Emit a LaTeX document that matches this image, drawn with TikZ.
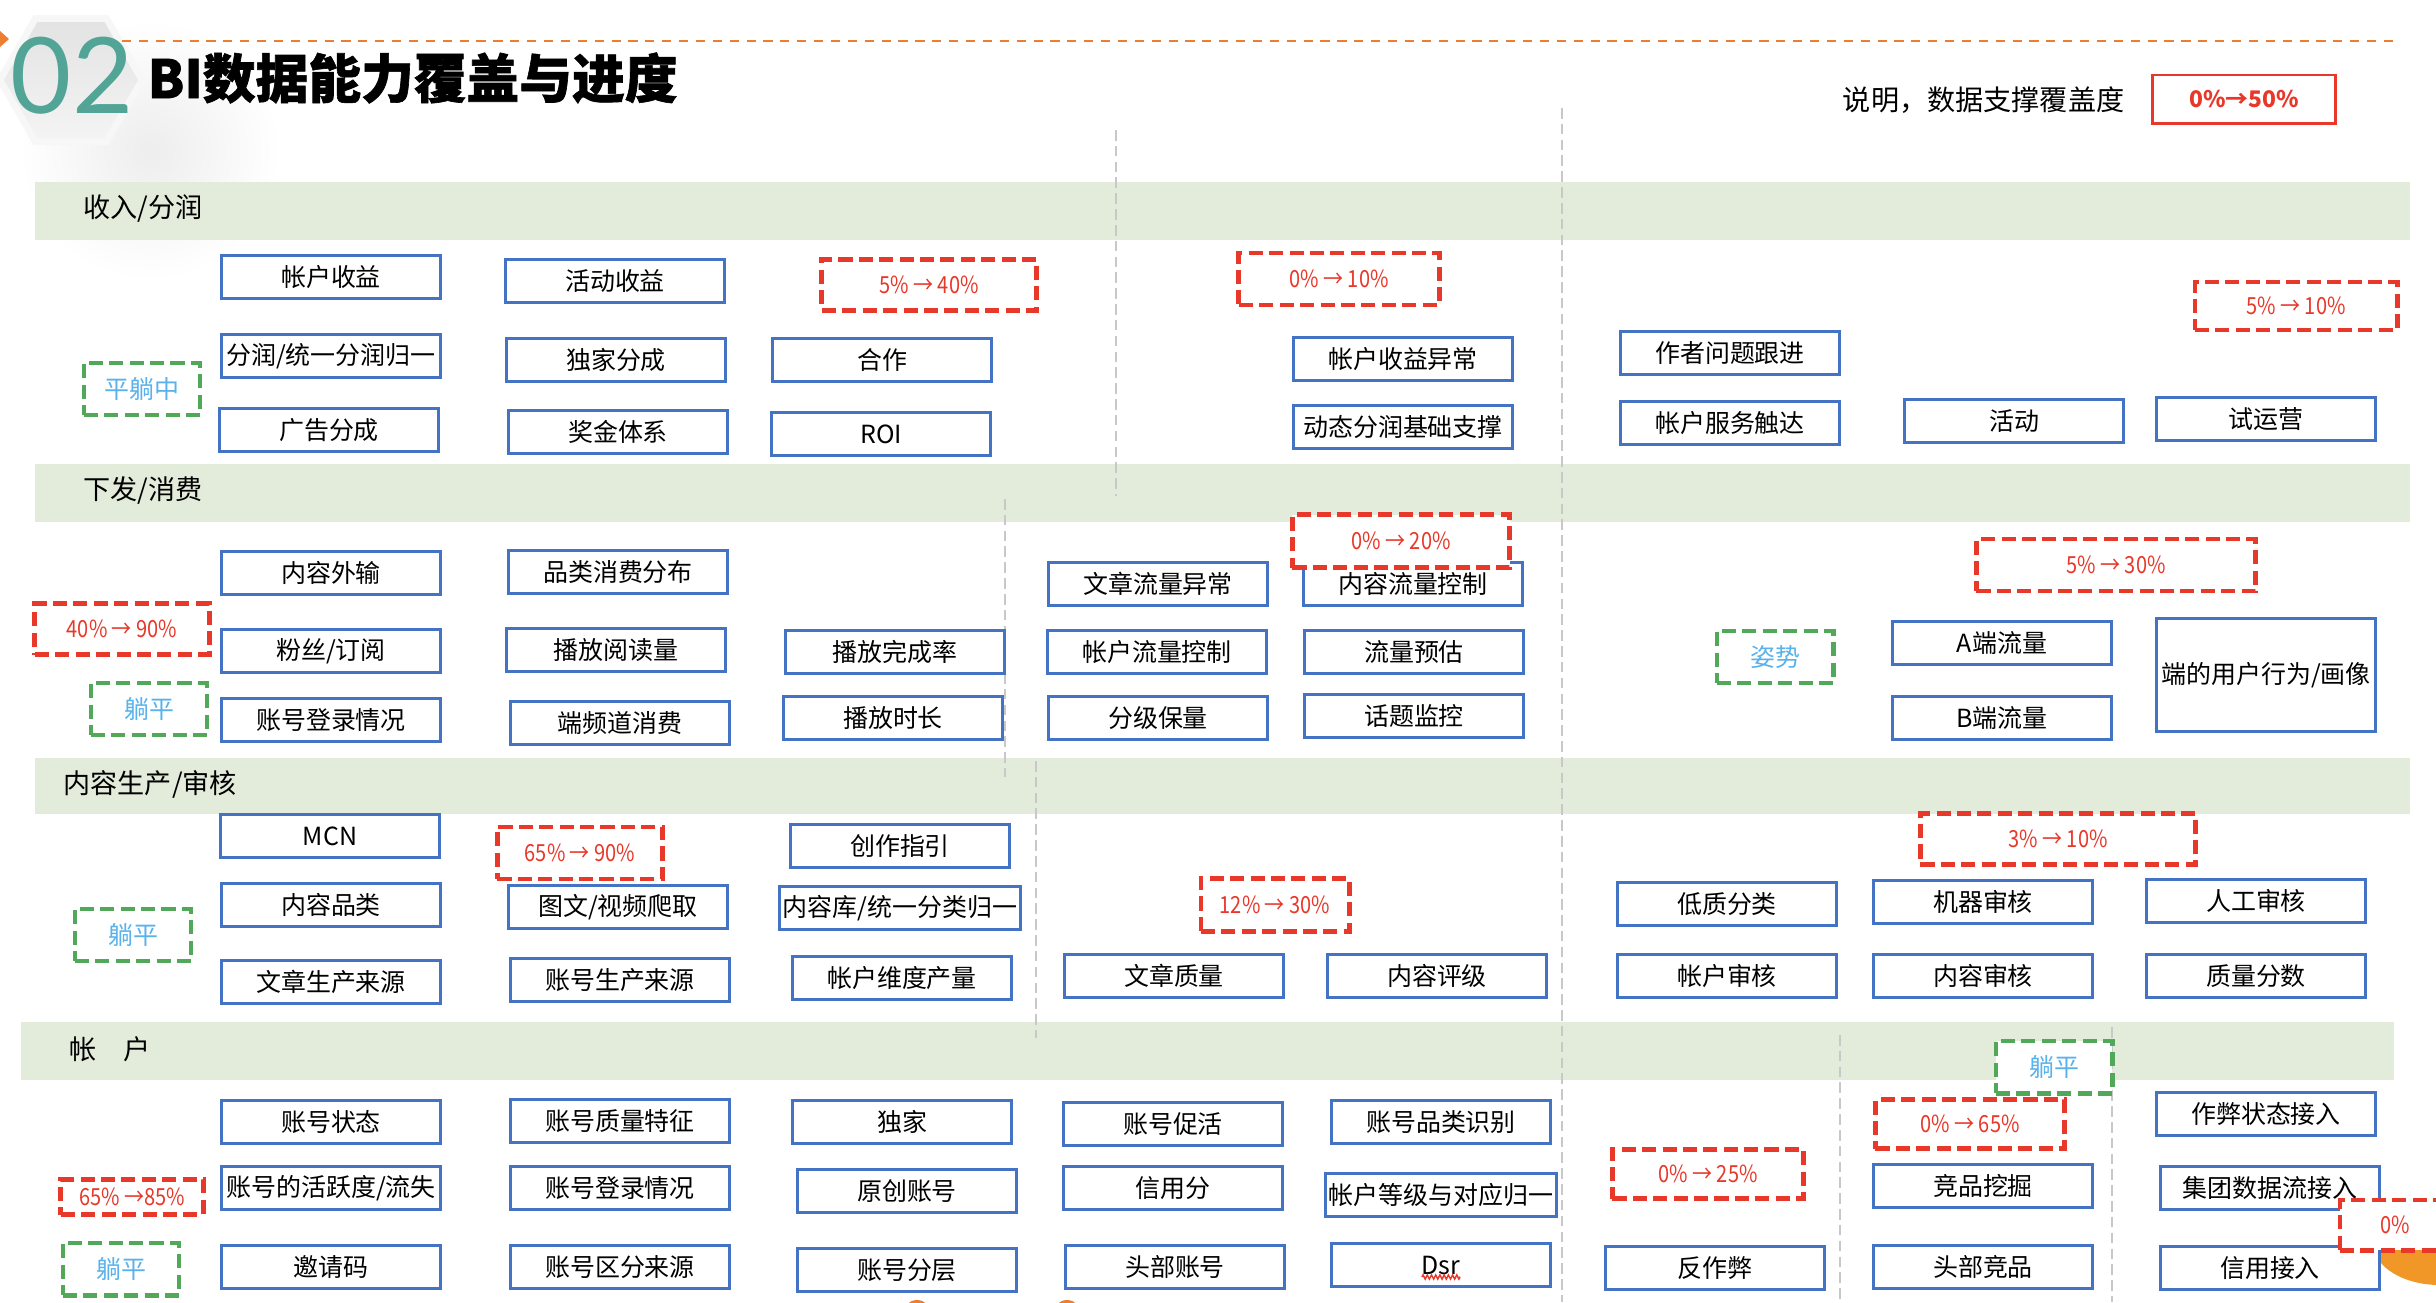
\documentclass[tikz,border=0pt]{standalone}
\usepackage{fontspec}
\setmainfont{Noto Sans CJK SC}
\newfontfamily\numfont{Lato}
\newfontfamily\titlefont{Noto Sans CJK SC}[BoldFeatures={FakeBold=1.2}]
\newfontfamily\goalfont{Noto Sans CJK SC}[FakeStretch=0.85]
\usetikzlibrary{shapes,decorations.pathmorphing}
\definecolor{boxblue}{RGB}{68,114,196}
\definecolor{goalred}{RGB}{232,56,42}
\definecolor{flatgreen}{RGB}{80,168,88}
\definecolor{flatblue}{RGB}{90,178,236}
\definecolor{bandgreen}{RGB}{227,236,218}
\definecolor{headorange}{RGB}{237,125,49}
\definecolor{numteal}{RGB}{82,164,150}
\definecolor{divgray}{RGB}{200,200,200}

\begin{document}
\begin{tikzpicture}[x=0.01cm,y=-0.01cm,
  itembox/.style={draw=boxblue,line width=0.85pt,fill=white,minimum width=2.18cm,minimum height=0.43cm,inner sep=1pt,font=\fontsize{7.1}{8}\selectfont},
  goalbox/.style={draw=goalred,line width=1.4pt,dash pattern=on 4pt off 1.8pt,fill=white,text=goalred,inner sep=0pt,font=\goalfont\fontsize{6.7}{7}\selectfont},
  flatbox/.style={draw=flatgreen,line width=1.4pt,dash pattern=on 4pt off 1.8pt,fill=white,text=flatblue,minimum width=1.16cm,minimum height=0.52cm,inner sep=0pt,font=\fontsize{7.1}{8}\selectfont},
  bandrow/.style={fill=bandgreen},
  bandtitle/.style={anchor=west,inner sep=0pt,font=\fontsize{7.7}{8}\selectfont},
  divider/.style={divgray,line width=0.5pt,dash pattern=on 3pt off 1.5pt}]
\clip (0,0) rectangle (2436,1302);

% header
\shade[inner color=gray!14,outer color=white] (150,150) circle (130);
\fill[gray!6] (-4,80) -- (33.5,15) -- (108.5,15) -- (146,80) -- (108.5,145) -- (33.5,145) -- cycle;
\shade[top color=gray!22,bottom color=gray!9] (4,80) -- (37.5,22) -- (104.5,22) -- (138,80) -- (104.5,138) -- (37.5,138) -- cycle;
\fill[headorange] (0,31) -- (9,39) -- (0,47) -- cycle;
\draw[headorange,line width=0.8pt,dash pattern=on 2.6pt off 2.2pt] (122,41) -- (2395,41);
\node[text=numteal,inner sep=0pt,font=\numfont\fontsize{30}{32}\selectfont] (num) at (72,76) {02};
\node[anchor=west,inner sep=0pt,font=\titlefont\bfseries\fontsize{15}{16}\selectfont] (title) at (147,78) {BI数据能力覆盖与进度};
\node[anchor=east,inner sep=0pt,font=\fontsize{8}{9}\selectfont] (note) at (2125,100) {说明，数据支撑覆盖度};
\node[draw=goalred,line width=0.85pt,minimum width=1.82cm,minimum height=0.48cm,text=goalred,font=\bfseries\fontsize{6.5}{8}\selectfont] (legend) at (2244,99) {0\%→50\%};

% bands
\fill[bandrow] (35,182) rectangle (2410,240);
\fill[bandrow] (35,464) rectangle (2410,522);
\fill[bandrow] (35,758) rectangle (2410,814);
\fill[bandrow] (21,1022) rectangle (2394,1080);
\node[bandtitle] (income) at (83,208) {收入/分润};
\node[bandtitle] (consume) at (83,490) {下发/消费};
\node[bandtitle] (produce) at (63,784) {内容生产/审核};
\node[bandtitle] (account) at (69,1049) {帐\quad 户};

% dividers
\draw[divider] (1116,130) -- (1116,496);
\draw[divider] (1562,108) -- (1562,1302);
\draw[divider] (1005,499) -- (1005,777);
\draw[divider] (1036,761) -- (1036,1038);
\draw[divider] (1840,1035) -- (1840,1302);
\draw[divider] (2112,1027) -- (2112,1302);

% orange marks at the edges
\fill[headorange!80!yellow] (2440,1245) ellipse (66 and 40);
\fill[headorange] (917,1314) circle (14);
\fill[headorange] (1067,1314) circle (14);

% income
\node[itembox] (acctinc) at (331,277) {帐户收益};
\node[itembox] (actinc) at (615,281) {活动收益};
\node[itembox] (share) at (331,356) {分润/统一分润归一};
\node[itembox] (excl) at (616,360) {独家分成};
\node[itembox] (coop) at (882,360) {合作};
\node[itembox] (ads) at (329,430) {广告分成};
\node[itembox] (bonus) at (618,432) {奖金体系};
\node[itembox] (roi) at (881,434) {ROI};
\node[itembox] (incabn) at (1403,359) {帐户收益异常};
\node[itembox] (dynshare) at (1403,427) {动态分润基础支撑};
\node[itembox] (author) at (1730,353) {作者问题跟进};
\node[itembox] (service) at (1730,423) {帐户服务触达};
\node[itembox] (activity) at (2014,421) {活动};
\node[itembox] (trial) at (2266,419) {试运营};
\node[goalbox,minimum width=2.14cm,minimum height=0.51cm] (g540) at (929,285) {5\% → 40\%};
\node[goalbox,minimum width=2.0cm,minimum height=0.52cm] (g010) at (1339,279) {0\% → 10\%};
\node[goalbox,minimum width=2.02cm,minimum height=0.48cm] (g510) at (2296,306) {5\% → 10\%};
\node[flatbox] (flat1) at (142,389) {平躺中};

% consume
\node[itembox] (export) at (331,573) {内容外输};
\node[itembox] (catcons) at (618,572) {品类消费分布};
\node[itembox] (fans) at (331,651) {粉丝/订阅};
\node[itembox] (playread) at (616,650) {播放阅读量};
\node[itembox] (playdone) at (895,652) {播放完成率};
\node[itembox] (login) at (331,720) {账号登录情况};
\node[itembox] (chancons) at (620,723) {端频道消费};
\node[itembox] (playtime) at (893,718) {播放时长};
\node[itembox] (artflow) at (1158,584) {文章流量异常};
\node[itembox] (ctflow) at (1413,584) {内容流量控制};
\node[itembox] (acctflow) at (1157,652) {帐户流量控制};
\node[itembox] (flowest) at (1414,652) {流量预估};
\node[itembox] (grade) at (1158,718) {分级保量};
\node[itembox] (topic) at (1414,716) {话题监控};
\node[itembox] (aflow) at (2002,643) {A端流量};
\node[itembox] (bflow) at (2002,718) {B端流量};
\node[itembox,minimum height=1.12cm] (portrait) at (2266,675) {端的用户行为/画像};
\node[goalbox,minimum width=1.74cm,minimum height=0.51cm] (g4090) at (122,629) {40\% → 90\%};
\node[goalbox,minimum width=2.17cm,minimum height=0.53cm] (g020) at (1401,541) {0\% → 20\%};
\node[goalbox,minimum width=2.79cm,minimum height=0.52cm] (g530) at (2116,565) {5\% → 30\%};
\node[flatbox] (flat2) at (149,709) {躺平};
\node[flatbox] (pose) at (1775,657) {姿势};

% produce
\node[itembox] (mcn) at (330,836) {MCN};
\node[itembox] (guide) at (900,846) {创作指引};
\node[itembox] (ctcat) at (331,905) {内容品类};
\node[itembox] (crawl) at (618,907) {图文/视频爬取};
\node[itembox] (lib) at (900,908) {内容库/统一分类归一};
\node[itembox] (artsrc) at (331,982) {文章生产来源};
\node[itembox] (acctsrc) at (620,980) {账号生产来源};
\node[itembox] (output) at (902,978) {帐户维度产量};
\node[itembox] (artq) at (1174,976) {文章质量};
\node[itembox] (rating) at (1437,976) {内容评级};
\node[itembox] (lowq) at (1727,904) {低质分类};
\node[itembox] (machine) at (1983,902) {机器审核};
\node[itembox] (manual) at (2256,901) {人工审核};
\node[itembox] (acctrev) at (1727,976) {帐户审核};
\node[itembox] (ctrev) at (1983,976) {内容审核};
\node[itembox] (score) at (2256,976) {质量分数};
\node[goalbox,minimum width=1.65cm,minimum height=0.52cm] (g6590) at (580,853) {65\% → 90\%};
\node[goalbox,minimum width=1.48cm,minimum height=0.53cm] (g1230) at (1275,905) {12\% → 30\%};
\node[goalbox,minimum width=2.75cm,minimum height=0.51cm] (g310) at (2058,839) {3\% → 10\%};
\node[flatbox] (flat3) at (133,935) {躺平};

% account
\node[itembox] (state) at (331,1122) {账号状态};
\node[itembox] (quality) at (620,1121) {账号质量特征};
\node[itembox] (exclusive) at (902,1122) {独家};
\node[itembox] (active) at (331,1188) {账号的活跃度/流失};
\node[itembox] (login2) at (620,1188) {账号登录情况};
\node[itembox] (original) at (907,1191) {原创账号};
\node[itembox] (invite) at (331,1267) {邀请码};
\node[itembox] (srcsplit) at (620,1267) {账号区分来源};
\node[itembox] (layer) at (907,1270) {账号分层};
\node[itembox] (promote) at (1173,1124) {账号促活};
\node[itembox] (catid) at (1441,1122) {账号品类识别};
\node[itembox] (credit) at (1173,1188) {信用分};
\node[itembox] (level) at (1441,1195) {帐户等级与对应归一};
\node[itembox] (head) at (1175,1267) {头部账号};
\node[itembox] (dsr) at (1441,1265) {Dsr};
\draw[goalred,line width=0.4pt,decorate,decoration={zigzag,segment length=1.2pt,amplitude=0.6pt}] ([xshift=-0.19cm,yshift=-0.12cm]dsr.center) -- ([xshift=0.19cm,yshift=-0.12cm]dsr.center);
\node[itembox] (anticheat) at (1715,1268) {反作弊};
\node[itembox] (compmine) at (1983,1186) {竞品挖掘};
\node[itembox] (headcomp) at (1983,1267) {头部竞品};
\node[itembox] (cheatin) at (2266,1114) {作弊状态接入};
\node[itembox] (groupin) at (2270,1188) {集团数据流接入};
\node[itembox] (creditin) at (2270,1268) {信用接入};
\node[goalbox,minimum width=1.42cm,minimum height=0.35cm] (g6585) at (132,1197) {65\% →85\%};
\node[goalbox,minimum width=1.91cm,minimum height=0.49cm] (g025) at (1708,1174) {0\% → 25\%};
\node[goalbox,minimum width=1.89cm,minimum height=0.49cm] (g065) at (1970,1124) {0\% → 65\%};
\node[goalbox,minimum width=1.1cm,minimum height=0.5cm] (g0) at (2395,1225) {0\%};
\node[flatbox] (flat4) at (121,1269) {躺平};
\node[flatbox] (flat5) at (2054,1067) {躺平};
\end{tikzpicture}
\end{document}
